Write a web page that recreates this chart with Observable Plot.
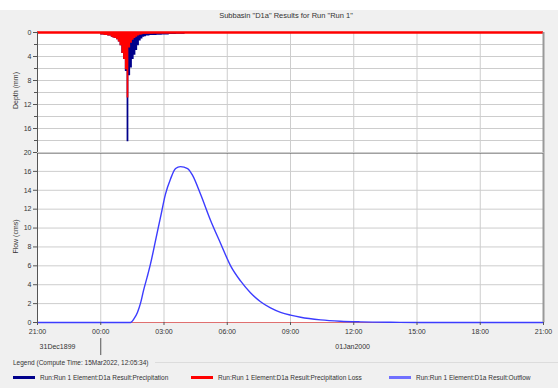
<!DOCTYPE html>
<html><head><meta charset="utf-8">
<script src="https://cdn.jsdelivr.net/npm/d3@7"></script>
<script src="https://cdn.jsdelivr.net/npm/@observablehq/plot@0.6"></script>
<style>
body{margin:0;background:#fff;}
#wrap{position:relative;width:558px;height:388px;overflow:hidden;background:#fff;font-family:"Liberation Sans",Arial,sans-serif;color:#333;}
#panel{position:absolute;left:0;top:10px;width:558px;height:378px;background:#f0f0f0;}
.abs{position:absolute;white-space:nowrap;}
.ylab{position:absolute;font-size:7px;transform:rotate(-90deg);transform-origin:center center;white-space:nowrap;}
.leg{position:absolute;font-size:6.5px;white-space:nowrap;display:flex;align-items:center;}
.sw{display:inline-block;width:22px;height:3px;margin-right:5px;}
</style></head><body>
<div id="wrap">
  <div id="panel"></div>
  <div class="abs" style="left:0;width:572px;top:11px;text-align:center;font-size:7.5px;">Subbasin "D1a" Results for Run "Run 1"</div>
  <div id="bot" class="abs" style="left:0;top:144px;"></div>
  <div id="top" class="abs" style="left:0;top:0;"></div>
  <div class="ylab" style="left:-10px;top:87px;width:50px;text-align:center;">Depth (mm)</div>
  <div class="ylab" style="left:-10px;top:233px;width:50px;text-align:center;">Flow (cms)</div>
  <div class="abs" style="left:155px;top:362px;width:403px;height:1px;background:#dcdcdc;"></div>
  <div class="abs" style="left:13px;top:359px;font-size:6.5px;">Legend (Compute Time: 15Mar2022, 12:05:34)</div>
  <div id="legend"></div>
</div>
<script>
// ---- data ----
// x axis: hours since 21:00 on 31Dec1899
const xTickHours = [0, 3, 6, 9, 12, 15, 18, 21, 24];
const xTickLabels = ["21:00", "00:00", "03:00", "06:00", "09:00", "12:00", "15:00", "18:00", "21:00"];
const dateLabels = ["31Dec1899", "01Jan2000"];
const depthTicks = [0, 4, 8, 12, 16, 20];
const depthGrid = [0, 2, 4, 6, 8, 10, 12, 14, 16, 18, 20];
const flowTicks = [0, 2, 4, 6, 8, 10, 12, 14, 16];
const flowGrid = [0, 2, 4, 6, 8, 10, 12, 14, 16, 18];

// 5-minute precipitation increments (mm), starting 00:00 01Jan
const rainStartHour = 3;
const rainStepMinutes = 5;
const precipitation = [0.4,0.4,0.5,0.5,0.6,0.6,0.8,0.9,1.0,1.2,1.6,2.2,3.5,4.5,6.5,18.2,
  7.2,5.9,4.5,3.8,3.0,2.2,1.4,1.1,0.8,0.7,0.6,0.6,0.5,0.5,0.5,0.5,
  0.45,0.45,0.45,0.4,0.4,0.4,0.4,0.35,0.35,0.35,0.35,0.3,0.3,0.3,0.3,0.3];
const precipitationLoss = [0.4,0.4,0.5,0.5,0.6,0.6,0.8,0.9,1.0,1.2,1.6,2.2,3.5,4.5,6.2,10.9,
  2.6,1.8,1.3,1.0,0.8,0.6,0.45,0.4,0.3,0.3,0.25,0.25,0.2,0.2,0.15,0.15,
  0.12,0.12,0.12,0.1,0.1,0.1,0.1,0.1,0.1,0.1,0.1,0.1,0.1,0.1,0.1,0.1];

// outflow hydrograph (cms)
const outflowHours = [0,4.41,4.58,4.74,4.90,5.03,5.20,5.36,5.60,5.83,6.07,6.31,6.55,6.78,7.12,7.35,7.73,8.21,8.68,9.16,9.63,10.10,10.58,11.05,11.53,12.00,12.48,13.43,14.37,15.32,16.75,18.17,24];
const outflow =      [0,0,   0.4, 1.06,2.15,3.4, 4.8, 6.2, 8.7, 11.1,13.6,15.2,16.3,16.5,16.3,15.6,13.6,10.8,8.4, 6.0, 4.4, 3.15, 2.2,  1.55, 1.08, 0.78, 0.55, 0.28, 0.14, 0.07, 0.02, 0,   0];

// ---- derived tables ----
const stepPts = (vals) => {
  const pts = vals.map((v, i) => ({t: rainStartHour + i * rainStepMinutes / 60, v}));
  pts.push({t: rainStartHour + vals.length * rainStepMinutes / 60, v: 0});
  return pts;
};
const precipPts = stepPts(precipitation);
const lossPts = stepPts(precipitationLoss);
const flowPts = outflowHours.map((t, i) => ({t, v: outflow[i]}));

const FONT = '"Liberation Sans", Arial, sans-serif';
const C_PRECIP = "#00008b", C_LOSS = "#ff0000", C_FLOW = "#3c3cff";
const GRID = "#cdcdcd";

const topPlot = Plot.plot({
  width: 558, height: 160,
  marginLeft: 37, marginRight: 15, marginTop: 32, marginBottom: 8,
  style: {background: "transparent", fontFamily: FONT, fontSize: "7px", color: "#333", overflow: "visible"},
  x: {domain: [0, 24], axis: null},
  y: {domain: [0, 20], reverse: true, axis: null},
  marks: [
    Plot.frame({fill: "white", stroke: null}),
    Plot.ruleX(xTickHours, {stroke: GRID}),
    Plot.ruleY(depthGrid, {stroke: GRID}),
    Plot.areaY(precipPts, {x: "t", y: "v", curve: "step-after", fill: C_PRECIP}),
    Plot.areaY(lossPts, {x: "t", y: "v", curve: "step-after", fill: C_LOSS}),
    Plot.ruleY([0], {stroke: C_LOSS, strokeWidth: 2.5}),
    Plot.axisY(depthGrid, {tickSize: 3, tickFormat: () => "", label: null, stroke: "#555"}),
    Plot.axisY(depthTicks, {tickSize: 4, tickPadding: 2, stroke: "#555", fontSize: 7, label: null}),
    Plot.ruleX([0], {stroke: "#555"}),
    Plot.ruleX([24], {stroke: "#999", strokeWidth: 2})
  ]
});
document.getElementById("top").appendChild(topPlot);

const botPlot = Plot.plot({
  width: 558, height: 244,
  marginLeft: 37, marginRight: 15, marginTop: 8, marginBottom: 66,
  style: {background: "transparent", fontFamily: FONT, fontSize: "7px", color: "#333", overflow: "visible"},
  x: {domain: [0, 24], axis: null},
  y: {domain: [0, 18], axis: null},
  marks: [
    Plot.frame({fill: "white", stroke: null}),
    Plot.ruleX(xTickHours, {stroke: GRID}),
    Plot.ruleY(flowGrid, {stroke: GRID}),
    Plot.ruleY([0], {stroke: "#e07070", strokeWidth: 1}),
    Plot.line(flowPts, {x: "t", y: "v", curve: "monotone-x", stroke: C_FLOW, strokeWidth: 1.4}),
    Plot.axisY(flowTicks, {tickSize: 4, tickPadding: 2, stroke: "#555", fontSize: 7, label: null}),
    Plot.axisX(xTickHours, {tickSize: 3, tickPadding: 4, stroke: "#555", fontSize: 7, label: null, tickFormat: (d, i) => xTickLabels[i]}),
    Plot.text([{t: 0.95, label: dateLabels[0]}, {t: 14.95, label: dateLabels[1]}],
      {x: "t", text: "label", frameAnchor: "bottom", dy: 26, fontSize: 7, fill: "#333"}),
    Plot.ruleX([3], {y1: -1.7, y2: -3.5, stroke: "#555"}),
    Plot.ruleX([0], {stroke: "#555"}),
    Plot.ruleX([24], {stroke: "#999", strokeWidth: 2}),
    Plot.ruleY([18], {stroke: "#444", strokeWidth: 2})
  ]
});
document.getElementById("bot").appendChild(botPlot);

// legend
const legendItems = [
  {label: "Run:Run 1 Element:D1a Result:Precipitation", color: C_PRECIP, left: 13},
  {label: "Run:Run 1 Element:D1a Result:Precipitation Loss", color: C_LOSS, left: 191},
  {label: "Run:Run 1 Element:D1a Result:Outflow", color: "#7070ff", left: 389}
];
const lg = document.getElementById("legend");
legendItems.forEach(it => {
  const d = document.createElement("div");
  d.className = "leg";
  d.style.left = it.left + "px";
  d.style.top = "374px";
  d.innerHTML = `<span class="sw" style="background:${it.color}"></span>${it.label}`;
  lg.appendChild(d);
});
</script>
</body></html>
